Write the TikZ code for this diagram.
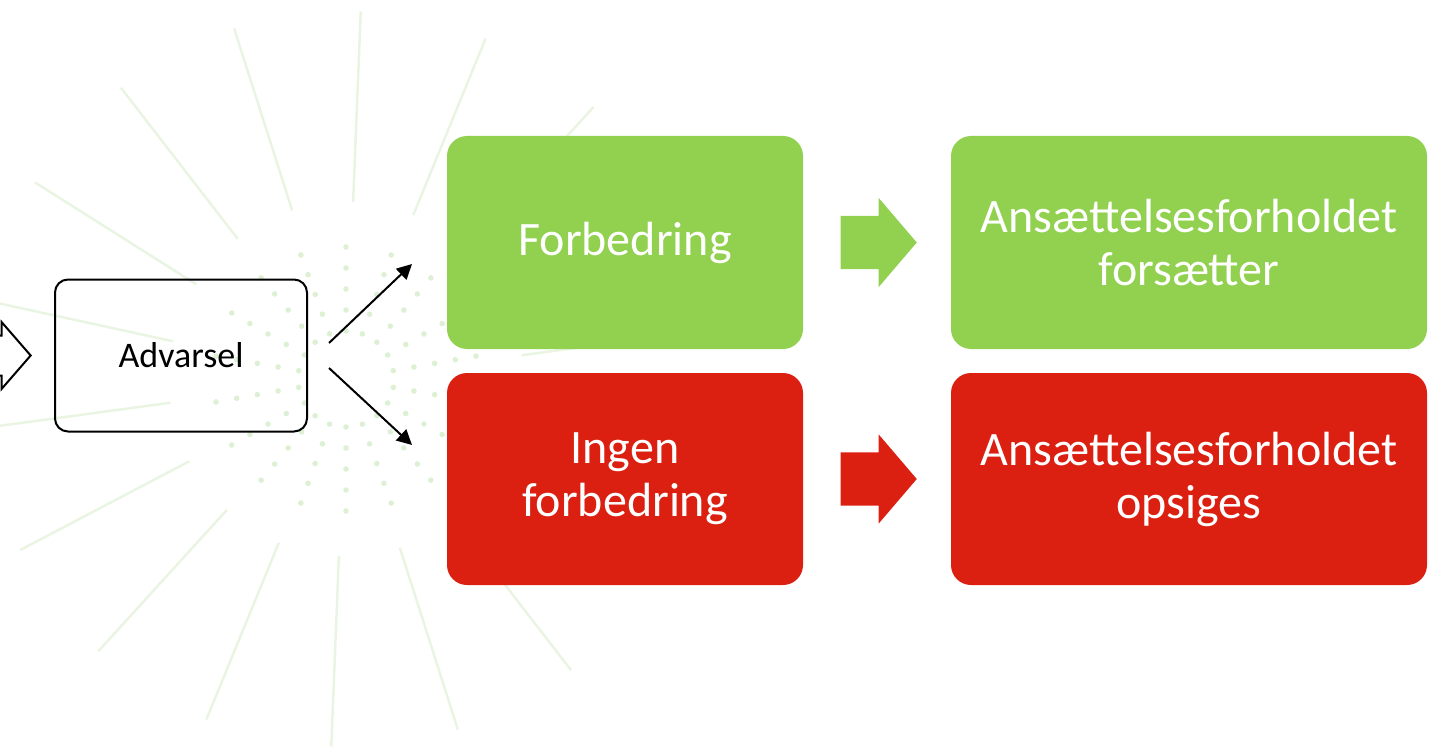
\documentclass[tikz,border=0pt]{standalone}
\usepackage{fontspec}
\setmainfont{Carlito}
\usetikzlibrary{positioning,calc,arrows.meta,shapes.arrows}

\definecolor{okgreen}{RGB}{146,208,80}
\definecolor{badred}{RGB}{219,31,17}
\definecolor{rayline}{RGB}{233,245,226}
\definecolor{raydot}{RGB}{222,240,212}

\begin{document}
\begin{tikzpicture}[x=1pt,y=-1pt]
\tikzstyle{outcome}=[rectangle, rounded corners=20pt, inner sep=0pt, outer sep=0pt,
	text=white, align=center, font=\fontsize{48}{53}\selectfont]
\tikzstyle{good}=[outcome, fill=okgreen]
\tikzstyle{bad}=[outcome, fill=badred]
\tikzstyle{blockarr}=
[
	single arrow, single arrow head extend=18pt, single arrow tip angle=99,
	minimum height=76pt, inner sep=0pt, anchor=tip
]
\tikzstyle{pick}=[-{Triangle[length=15pt,width=15pt]}, line width=2pt]

\useasboundingbox (0,0) rectangle (1434,751);
\clip (0,0) rectangle (1434,751);

% faint burst behind the boxes
\coordinate (burst) at (346,379);
\foreach \k in {0,...,17}{
	\draw[rayline, line width=2.5pt] ($(burst)+({7.7+20*\k}:177pt)$) -- ($(burst)+({7.7+20*\k}:368pt)$);
	\foreach \r in {48,69,90,111,132}
		\fill[raydot] ($(burst)+({10+20*\k}:\r pt)$) circle (2.8pt);
}

\node[good, minimum width=356pt, minimum height=213pt] (forb) at (625,242.5) {Forbedring};
\node[bad, minimum width=356pt, minimum height=212pt, below=24pt of forb] (ingen) {Ingen\\forbedring};
\node[good, minimum width=476pt, minimum height=213pt, right=148pt of forb] (fort) {Ansættelsesforholdet\\forsætter};
\node[bad, minimum width=476pt, minimum height=212pt, right=148pt of ingen] (ops) {Ansættelsesforholdet\\opsiges};

\node[draw, line width=2pt, rounded corners=13pt, minimum width=252pt, minimum height=152pt,
	font=\fontsize{36}{43}\selectfont] (adv) at (181,355.5) {Advarsel};

\node[blockarr, draw, fill=white, line width=2pt, single arrow head extend=13.5pt,
	single arrow tip angle=98, minimum height=120pt] (inarr) at ($(adv.west)+(-22,0)$) {\rule{0pt}{38pt}};

\node[blockarr, fill=okgreen] (ga) at ($(fort.west)+(-34,0)$) {\rule{0pt}{53pt}};
\node[blockarr, fill=badred] (ra) at ($(ops.west)+(-34,0)$) {\rule{0pt}{53pt}};

\coordinate (up0) at (329,343);
\coordinate (up1) at (412,264);
\coordinate (dn0) at (329,368);
\coordinate (dn1) at (412,445);
\draw[pick] (up0) -- (up1);
\draw[pick] (dn0) -- (dn1);
\end{tikzpicture}
\end{document}
